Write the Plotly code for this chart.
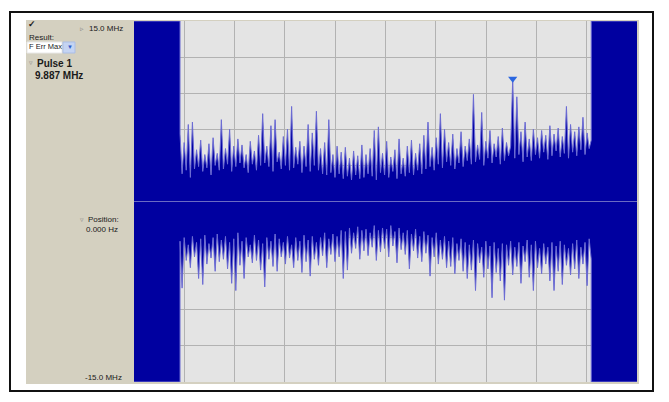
import plotly.graph_objects as go

# ---------------- data ----------------
FULL_SCALE = 15.0          # MHz, top / bottom of the display
DIVISIONS = 10             # horizontal divisions
GATE_ON = 0.915            # division where the pulse starts
GATE_OFF = 9.09            # division where the pulse ends

# positive frequency-error envelope (MHz), read across the pulse
UPPER = [
    5.6, 2.3, 4.9, 2.6, 6.4, 2.0, 6.6, 2.7, 4.3, 2.9,
    5.1, 2.5, 3.9, 2.8, 4.8, 2.2, 5.3, 3.0, 4.0, 2.6,
    6.8, 2.7, 4.4, 3.1, 6.0, 2.5, 4.6, 2.9, 5.2, 3.2,
    4.7, 2.8, 3.9, 2.4, 5.0, 3.1, 4.2, 2.6, 5.5, 3.0,
    7.3, 3.2, 4.6, 2.9, 6.3, 2.5, 6.8, 3.3, 4.1, 2.7,
    5.4, 3.0, 6.0, 2.6, 7.9, 2.8, 4.5, 3.1, 5.0, 2.4,
    4.6, 2.9, 6.4, 2.5, 5.7, 3.0, 7.5, 2.6, 4.4, 2.3,
    4.9, 2.2, 6.8, 2.4, 3.9, 2.0, 4.6, 2.3, 4.1, 1.9,
    4.5, 2.1, 3.6, 1.8, 4.2, 2.2, 3.8, 1.9, 4.7, 2.0,
    3.9, 2.3, 4.4, 2.1, 5.9, 1.8, 6.2, 2.4, 4.0, 2.2,
    5.0, 2.0, 3.7, 2.5, 4.3, 1.9, 5.2, 2.3, 3.6, 2.1,
    4.6, 2.4, 5.1, 2.2, 4.0, 2.6, 4.8, 2.3, 5.5, 2.7,
    6.6, 2.9, 4.5, 2.6, 5.3, 3.1, 7.3, 2.8, 6.0, 3.3,
    4.9, 3.0, 5.6, 2.7, 4.4, 3.2, 5.8, 2.9, 4.6, 3.4,
    5.2, 3.1, 8.9, 3.3, 4.7, 3.5, 7.4, 3.0, 5.0, 3.6,
    5.9, 3.2, 4.8, 3.7, 5.4, 3.1, 6.1, 3.4, 4.9, 3.8,
    4.6, 10.2, 3.6, 8.7, 3.9, 5.8, 3.3, 6.6, 3.7, 5.2,
    3.4, 6.0, 3.9, 5.3, 3.6, 5.9, 4.1, 5.5, 3.5, 6.3,
    3.8, 5.6, 4.2, 6.1, 3.7, 5.4, 4.0, 7.9, 3.6, 6.4,
    4.1, 5.8, 3.8, 6.2, 4.3, 7.0, 3.9, 5.7, 4.4, 5.1,
]

# negative frequency-error envelope (MHz)
LOWER = [
    -3.3, -7.2, -3.0, -4.9, -3.6, -5.5, -2.9, -4.6, -3.4, -6.4,
    -3.1, -6.9, -2.8, -5.2, -3.5, -4.7, -3.0, -5.8, -2.7, -5.0,
    -3.2, -4.8, -2.9, -5.6, -3.4, -6.8, -3.1, -7.4, -2.6, -5.3,
    -3.3, -6.4, -3.0, -4.6, -3.6, -5.1, -2.8, -4.9, -3.2, -5.7,
    -3.5, -7.1, -3.0, -4.8, -3.3, -5.4, -2.7, -5.8, -3.1, -4.6,
    -3.4, -5.2, -2.9, -4.7, -3.6, -5.5, -3.0, -4.9, -3.3, -5.9,
    -2.8, -5.0, -3.2, -6.2, -2.9, -4.8, -3.4, -5.3, -3.0, -4.5,
    -2.6, -5.5, -3.1, -4.4, -2.7, -5.0, -2.9, -4.6, -2.4, -6.4,
    -2.5, -5.7, -2.2, -4.3, -2.6, -3.9, -2.1, -4.8, -2.4, -4.1,
    -2.3, -4.5, -2.6, -3.8, -2.0, -4.9, -2.4, -4.2, -2.2, -3.9,
    -2.3, -4.6, -2.0, -3.7, -2.5, -5.1, -2.2, -4.0, -2.6, -4.4,
    -2.4, -5.6, -2.7, -4.1, -2.3, -4.7, -2.9, -5.0, -2.5, -4.3,
    -2.8, -6.2, -3.0, -4.6, -2.6, -5.2, -3.2, -4.8, -2.9, -5.5,
    -3.3, -5.4, -3.0, -6.0, -3.5, -4.9, -3.1, -5.8, -3.4, -6.4,
    -3.6, -5.7, -3.2, -7.4, -3.5, -5.1, -3.8, -6.3, -3.3, -5.6,
    -3.7, -8.0, -3.4, -5.9, -3.9, -6.6, -3.5, -8.2, -3.6, -5.3,
    -3.3, -6.1, -3.8, -5.4, -3.4, -6.8, -3.7, -5.0, -3.2, -6.3,
    -3.6, -7.4, -3.3, -5.5, -3.9, -6.0, -3.5, -5.2, -3.8, -6.6,
    -3.4, -7.4, -3.7, -5.8, -3.3, -6.9, -3.6, -5.3, -3.9, -6.1,
    -3.5, -5.6, -3.2, -6.4, -3.8, -5.2, -3.4, -7.0, -3.1, -4.8,
]

TOP_LABEL = "15.0 MHz"
BOTTOM_LABEL = "-15.0 MHz"
RESULT_LABEL = "Result:"
RESULT_VALUE = "F Err Max"
PULSE_LABEL = "Pulse 1"
PEAK_LABEL = "9.887 MHz"
POSITION_LABEL = "Position:"
POSITION_VALUE = "0.000 Hz"

# ---------------- layout geometry ----------------
W, H = 669, 402
ML, MR, MT, MB = 134, 32, 21, 20
PW = W - ML - MR
PH = H - MT - MB


def px(x):
    return (x - ML) / PW


def py(y):
    return (H - MB - y) / PH


BLUE = "#0000a0"
EDGE = "#6c6cd4"
BEIGE = "#d4d0c0"
PLOTBG = "#e4e4e4"
GRID = "#b2b2b2"
TXT = "#1a1a1a"
FONT = "Liberation Sans"

n = len(UPPER)
step = (GATE_OFF - GATE_ON) / (n - 1)
xs = [GATE_ON + i * step for i in range(n)]

x_full = [0, GATE_ON] + xs + [GATE_OFF, DIVISIONS]
up_full = [FULL_SCALE, FULL_SCALE] + UPPER + [FULL_SCALE, FULL_SCALE]
lo_full = [-FULL_SCALE, -FULL_SCALE] + LOWER + [-FULL_SCALE, -FULL_SCALE]

fig = go.Figure()
fig.add_trace(go.Scatter(x=x_full, y=up_full, mode="lines", fill="tozeroy",
                         fillcolor=BLUE, line=dict(color=EDGE, width=1),
                         hoverinfo="skip", showlegend=False))
fig.add_trace(go.Scatter(x=x_full, y=lo_full, mode="lines", fill="tozeroy",
                         fillcolor=BLUE, line=dict(color=EDGE, width=1),
                         hoverinfo="skip", showlegend=False))

ipk = max(range(n), key=lambda i: UPPER[i])
fig.add_trace(go.Scatter(x=[xs[ipk]], y=[UPPER[ipk]], mode="markers",
                         marker=dict(symbol="triangle-down", size=8, color="#2a66e0"),
                         hoverinfo="skip", showlegend=False))

shapes = [
    # beige instrument panel
    dict(type="rect", xref="paper", yref="paper", x0=px(26), x1=px(639),
         y0=py(384), y1=py(20), fillcolor=BEIGE, line=dict(width=0), layer="below"),
    # grey plot face
    dict(type="rect", xref="paper", yref="paper", x0=0, x1=1, y0=0, y1=1,
         fillcolor=PLOTBG, line=dict(width=0), layer="below"),
    # outer frame
    dict(type="rect", xref="paper", yref="paper", x0=px(10), x1=px(653),
         y0=py(391), y1=py(12), line=dict(color="#111111", width=2), layer="above"),
    # centre line
    dict(type="line", xref="paper", yref="y", x0=0, x1=1, y0=0, y1=0,
         line=dict(color="#6a6ac4", width=1), layer="above"),
    # dropdown box and button
    dict(type="rect", xref="paper", yref="paper", x0=px(27), x1=px(62),
         y0=py(53), y1=py(42), fillcolor="#ffffff", line=dict(color="#e8e8e8", width=1),
         layer="above"),
    dict(type="rect", xref="paper", yref="paper", x0=px(63), x1=px(75),
         y0=py(53), y1=py(42), fillcolor="#c5d4f2", line=dict(color="#a9bde6", width=1),
         layer="above"),
]


def txt(x, y, s, size=8, bold=False, color=TXT):
    return dict(xref="paper", yref="paper", x=px(x), y=py(y), text=("<b>%s</b>" % s) if bold else s,
                showarrow=False, xanchor="left", yanchor="middle",
                font=dict(family=FONT, size=size, color=color))


annotations = [
    txt(26, 24, "✓", size=9, bold=True),
    txt(78, 28, "▹", size=7, color="#8a8a8a"),
    txt(87, 28, TOP_LABEL),
    txt(27, 37, RESULT_LABEL),
    txt(27, 47, RESULT_VALUE, size=7.5),
    txt(65, 47, "▼", size=6, color="#2f5cc8"),
    txt(27, 62, "▿", size=7, color="#8a8a8a"),
    txt(35, 63, PULSE_LABEL, size=10, bold=True),
    txt(33, 75, PEAK_LABEL, size=10, bold=True),
    txt(78, 219, "▿", size=7, color="#8a8a8a"),
    txt(86, 219, POSITION_LABEL),
    txt(84, 229, POSITION_VALUE),
    txt(83, 377, BOTTOM_LABEL),
]

fig.update_layout(
    width=W, height=H, autosize=False,
    margin=dict(l=ML, r=MR, t=MT, b=MB, pad=0),
    paper_bgcolor="#ffffff", plot_bgcolor="rgba(0,0,0,0)",
    shapes=shapes, annotations=annotations,
    xaxis=dict(range=[0, DIVISIONS], dtick=1, showgrid=True, gridcolor=GRID, gridwidth=1,
               zeroline=False, showline=False, showticklabels=False, ticks="", fixedrange=True),
    yaxis=dict(range=[-FULL_SCALE, FULL_SCALE], dtick=FULL_SCALE / 5, showgrid=True,
               gridcolor=GRID, gridwidth=1, zeroline=False, showline=False,
               showticklabels=False, ticks="", fixedrange=True),
)

fig.write_html("out.html", config={"displayModeBar": False},
               post_script="document.body.style.margin='0px';")
